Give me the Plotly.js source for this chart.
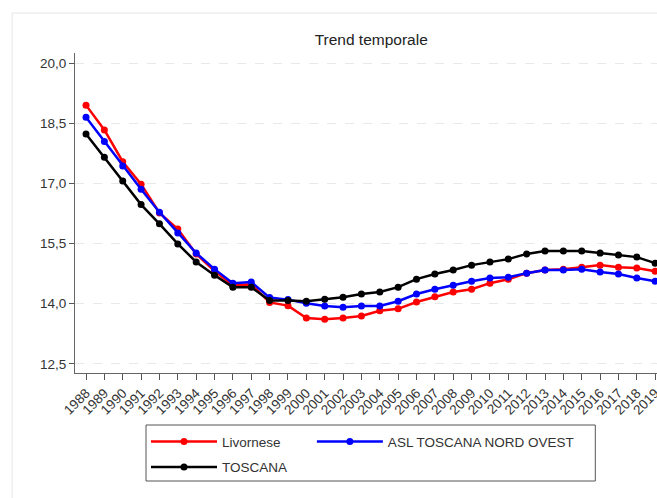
<!DOCTYPE html>
<html>
<head>
<meta charset="utf-8">
<script src="https://cdn.plot.ly/plotly-3.0.1.min.js"></script>
<style>html,body{margin:0;padding:0;background:#fff;}#chart{width:657px;height:498px;}</style>
</head>
<body>
<div id="chart"></div>
<script>
const years = [1988,1989,1990,1991,1992,1993,1994,1995,1996,1997,1998,1999,2000,2001,2002,2003,2004,2005,2006,2007,2008,2009,2010,2011,2012,2013,2014,2015,2016,2017,2018,2019];
const livornese = [18.95,18.33,17.54,16.98,16.26,15.86,15.24,14.81,14.46,14.48,14.03,13.95,13.64,13.61,13.64,13.69,13.82,13.87,14.04,14.17,14.29,14.36,14.51,14.61,14.76,14.84,14.86,14.91,14.96,14.91,14.89,14.81];
const aslNordOvest = [18.65,18.04,17.43,16.85,16.28,15.76,15.26,14.86,14.51,14.54,14.15,14.10,14.01,13.94,13.91,13.94,13.94,14.06,14.24,14.36,14.46,14.56,14.64,14.66,14.76,14.84,14.84,14.86,14.79,14.74,14.64,14.56];
const toscana = [18.23,17.65,17.06,16.47,15.99,15.49,15.04,14.71,14.41,14.41,14.08,14.08,14.06,14.11,14.16,14.24,14.29,14.41,14.61,14.74,14.84,14.96,15.04,15.11,15.24,15.31,15.31,15.31,15.26,15.21,15.16,15.01];
const seriesNames = ["Livornese", "ASL TOSCANA NORD OVEST", "TOSCANA"];
const tickLabels = years.map(String);

const colors = ["#ff0000", "#0000ff", "#000000"];
const legendFor = ["legend", "legend2", "legend"];
const data = [livornese, aslNordOvest, toscana].map((vals, i) => ({
  x: years, y: vals, name: seriesNames[i], type: "scatter", mode: "lines+markers",
  line: {color: colors[i], width: 2.5},
  marker: {color: colors[i], size: 7},
  legend: legendFor[i], legendgroup: "g" + i,
  cliponaxis: false
}));

const legendCommon = {
  orientation: "v", xanchor: "left", y: -0.166, yanchor: "top",
  borderwidth: 0, bgcolor: "rgba(0,0,0,0)", itemwidth: 66,
  font: {size: 13.5, color: "#333"}, traceorder: "grouped", tracegroupgap: 5
};

const layout = {
  width: 657, height: 498,
  margin: {l: 75, r: 0, t: 53, b: 125},
  paper_bgcolor: "#fff", plot_bgcolor: "#fff",
  font: {family: "Liberation Sans, Arial, sans-serif", color: "#333", size: 13},
  separators: ",.",
  title: {text: "Trend temporale", x: 0.565, xref: "container", y: 0.92, yref: "container", yanchor: "middle", xanchor: "center",
          font: {size: 15.5, color: "#222"}},
  xaxis: {
    range: [1987.4, 2019.1], tickmode: "array", tickvals: years, ticktext: tickLabels,
    tickangle: -45, ticks: "outside", ticklen: 6, tickcolor: "#555", tickwidth: 1,
    showline: true, linecolor: "#666", linewidth: 1, showgrid: false, zeroline: false,
    ticklabeloverflow: "allow",
    tickfont: {size: 13.5, color: "#333"}
  },
  yaxis: {
    range: [12.27, 20.25], tick0: 12.5, dtick: 1.5, tickformat: ".1f",
    ticks: "outside", ticklen: 5, tickcolor: "#555", tickwidth: 1,
    showline: true, linecolor: "#666", linewidth: 1,
    showgrid: true, gridcolor: "#e8e8e8", griddash: "dash", gridwidth: 1, zeroline: false,
    tickfont: {size: 13.5, color: "#333"}
  },
  showlegend: true,
  legend: Object.assign({}, legendCommon, {x: 0.122}),
  legend2: Object.assign({}, legendCommon, {x: 0.407}),
  shapes: [{
    type: "rect", xref: "paper", yref: "paper", x0: -0.108, x1: 1.2, y0: -0.6, y1: 1.125,
    line: {color: "#e6e6e6", width: 1}, layer: "below"
  }, {
    type: "rect", xref: "paper", yref: "paper", x0: 0.122, x1: 0.894, y0: -0.3375, y1: -0.1625,
    line: {color: "#555", width: 1}, layer: "below"
  }]
};

Plotly.newPlot("chart", data, layout, {staticPlot: true, displayModeBar: false});
</script>
</body>
</html>
